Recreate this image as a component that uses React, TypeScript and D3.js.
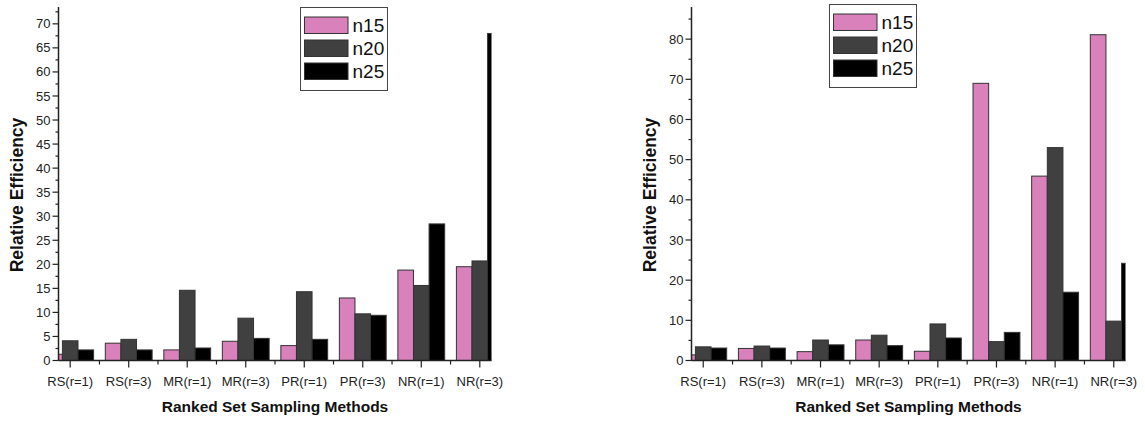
import React from "react";
import * as d3 from "d3";

const categories = ["RS(r=1)", "RS(r=3)", "MR(r=1)", "MR(r=3)", "PR(r=1)", "PR(r=3)", "NR(r=1)", "NR(r=3)"];
const seriesNames = ["n15", "n20", "n25"];
const colors = ["#D981BA", "#404040", "#000000"];

const leftN15 = [1.3, 3.6, 2.2, 4.0, 3.1, 13.0, 18.8, 19.5];
const leftN20 = [4.1, 4.4, 14.6, 8.8, 14.3, 9.7, 15.6, 20.7];
const leftN25 = [2.2, 2.2, 2.6, 4.6, 4.4, 9.4, 28.4, 68.0];

const rightN15 = [1.4, 3.0, 2.2, 5.1, 2.3, 69.0, 45.9, 81.1];
const rightN20 = [3.4, 3.6, 5.1, 6.3, 9.1, 4.7, 53.0, 9.8];
const rightN25 = [3.1, 3.1, 3.9, 3.7, 5.6, 7.0, 17.0, 24.2];

const leftTicks = d3.range(0, 71, 5);
const rightTicks = d3.range(0, 81, 10);

const FONT = "'Liberation Sans', Arial, sans-serif";

type PanelProps = {
  id: string;
  x0: number;
  x1: number;
  yMax: number;
  ticks: number[];
  minorStep: number;
  series: number[][];
  legendX: number;
  legendY: number;
};

function Panel({ id, x0, x1, yMax, ticks, minorStep, series, legendX, legendY }: PanelProps) {
  const yBottom = 360.5;
  const yTop = 7;
  const x = d3.scaleLinear().domain([0.8, 8.2]).range([x0, x1]);
  const y = d3.scaleLinear().domain([0, yMax]).range([yBottom, yTop]);
  const groupW = 0.8;
  const barW = groupW / 3;
  const minorTicks = d3.range(minorStep, yMax, minorStep * 2).filter((v) => v <= yMax);
  const xMinor = d3.range(1.5, 8, 1);
  const clipId = `clip-${id}`;
  return (
    <g>
      <defs>
        <clipPath id={clipId}>
          <rect x={x0} y={yTop} width={x1 - x0} height={yBottom - yTop} />
        </clipPath>
      </defs>
      <g clipPath={`url(#${clipId})`}>
        {series.map((vals, si) =>
          vals.map((v, ci) => {
            const left = x(ci + 1 - groupW / 2 + si * barW);
            const right = x(ci + 1 - groupW / 2 + (si + 1) * barW);
            return (
              <rect
                key={`${si}-${ci}`}
                x={left}
                y={y(v)}
                width={right - left}
                height={yBottom - y(v)}
                fill={colors[si]}
                stroke="#333"
                strokeWidth={1}
              />
            );
          })
        )}
      </g>
      {/* y axis */}
      <line x1={x0} x2={x0} y1={yTop} y2={yBottom} stroke="#222" strokeWidth={1.5} />
      {ticks.map((t) => (
        <g key={`yt${t}`}>
          <line x1={x0 - 6} x2={x0} y1={y(t)} y2={y(t)} stroke="#222" strokeWidth={1.2} />
          <text x={x0 - 8} y={y(t)} dy="0.35em" textAnchor="end" fontSize={13} fontFamily={FONT} fill="#222">
            {t}
          </text>
        </g>
      ))}
      {minorTicks.map((t) => (
        <line key={`ym${t}`} x1={x0 - 3} x2={x0} y1={y(t)} y2={y(t)} stroke="#222" strokeWidth={1.2} />
      ))}
      {/* x axis */}
      <line x1={x0} x2={x1} y1={yBottom} y2={yBottom} stroke="#222" strokeWidth={1.5} />
      {categories.map((c, i) => (
        <g key={c}>
          <line x1={x(i + 1)} x2={x(i + 1)} y1={yBottom} y2={yBottom + 7} stroke="#222" strokeWidth={1.2} />
          <text x={x(i + 1)} y={yBottom + 25} textAnchor="middle" fontSize={13} fontFamily={FONT} fill="#222">
            {c}
          </text>
        </g>
      ))}
      {xMinor.map((m) => (
        <line key={`xm${m}`} x1={x(m)} x2={x(m)} y1={yBottom} y2={yBottom + 4} stroke="#222" strokeWidth={1.2} />
      ))}
      {/* axis titles */}
      <text
        x={(x0 + x1) / 2}
        y={412}
        textAnchor="middle"
        fontSize={15.5}
        fontWeight="bold"
        fontFamily={FONT}
        fill="#111"
      >
        Ranked Set Sampling Methods
      </text>
      <text
        transform={`translate(${x0 - 36},195) rotate(-90)`}
        textAnchor="middle"
        fontSize={17.5}
        fontWeight="bold"
        fontFamily={FONT}
        fill="#111"
      >
        Relative Efficiency
      </text>
      {/* legend */}
      <rect x={legendX} y={legendY} width={87} height={83} fill="#fff" stroke="#444" strokeWidth={1} />
      {seriesNames.map((s, i) => (
        <g key={s}>
          <rect
            x={legendX + 4}
            y={legendY + 9.5 + i * 23}
            width={43.5}
            height={16.5}
            fill={colors[i]}
            stroke="#333"
            strokeWidth={1}
          />
          <text x={legendX + 52} y={legendY + 24.5 + i * 23.2} fontSize={19} fontFamily={FONT} fill="#111">
            {s}
          </text>
        </g>
      ))}
    </g>
  );
}

export default function App() {
  return (
    <svg
      width={1145}
      height={422}
      style={{ position: "absolute", left: 0, top: 0, background: "#fff" }}
    >
      <rect x={0} y={0} width={1145} height={422} fill="#fff" />
      <Panel
        id="left"
        x0={58.5}
        x1={491.5}
        yMax={73.5}
        ticks={leftTicks}
        minorStep={2.5}
        series={[leftN15, leftN20, leftN25]}
        legendX={300.5}
        legendY={7.5}
      />
      <Panel
        id="right"
        x0={691.5}
        x1={1125.5}
        yMax={88}
        ticks={rightTicks}
        minorStep={5}
        series={[rightN15, rightN20, rightN25]}
        legendX={829.5}
        legendY={4.5}
      />
    </svg>
  );
}
